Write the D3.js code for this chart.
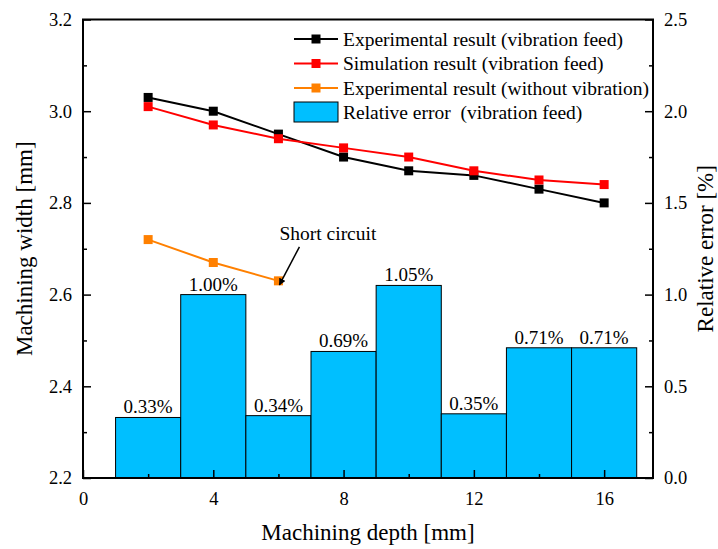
<!DOCTYPE html>
<html>
<head>
<meta charset="utf-8">
<script src="https://cdn.jsdelivr.net/npm/d3@7"></script>
<style>
  body { margin: 0; background: #fff; }
  text { font-family: "Liberation Serif", "Times New Roman", serif; fill: #000; }
</style>
</head>
<body>
<script>
// data
var depth = [2, 4, 6, 8, 10, 12, 14, 16];
var expVib = [3.03, 3.00, 2.95, 2.90, 2.87, 2.86, 2.83, 2.80];
var simVib = [3.01, 2.97, 2.94, 2.92, 2.90, 2.87, 2.85, 2.84];
var depthNoVib = [2, 4, 6];
var expNoVib = [2.72, 2.67, 2.63];
var relErr = [0.33, 1.00, 0.34, 0.69, 1.05, 0.35, 0.71, 0.71];
var errLabels = ["0.33%", "1.00%", "0.34%", "0.69%", "1.05%", "0.35%", "0.71%", "0.71%"];
var xTicks = [0, 4, 8, 12, 16];
var yLeftTicks = [2.2, 2.4, 2.6, 2.8, 3.0, 3.2];
var yRightTicks = [0, 0.5, 1.0, 1.5, 2.0, 2.5];
var legendNames = ["Experimental result (vibration feed)", "Simulation result (vibration feed)",
                   "Experimental result (without vibration)", "Relative error  (vibration feed)"];

var W = 718, H = 549;
var pL = 83, pR = 653, pT = 19.5, pB = 478;

var svg = d3.select("body").append("svg")
    .attr("width", W)
    .attr("height", H);

var x = d3.scaleLinear().domain([0, 17.5]).range([pL, pR]);
var yL = d3.scaleLinear().domain([2.2, 3.2]).range([pB, pT]);
var yR = d3.scaleLinear().domain([0, 2.5]).range([pB, pT]);

var barColor = "#00BFFF";
var orange = "#FF8000";

// bars (relative error)
svg.selectAll("rect.bar").data(relErr).enter().append("rect")
    .attr("class", "bar")
    .attr("x", function (d, i) { return x(depth[i] - 1); })
    .attr("width", function (d, i) { return x(depth[i] + 1) - x(depth[i] - 1); })
    .attr("y", function (d) { return yR(d); })
    .attr("height", function (d) { return pB - yR(d); })
    .style("fill", barColor)
    .style("stroke", "#000")
    .style("stroke-width", 1);

svg.selectAll("text.barlab").data(relErr).enter().append("text")
    .attr("class", "barlab")
    .attr("x", function (d, i) { return x(depth[i]); })
    .attr("y", function (d) { return yR(d) - 4; })
    .attr("text-anchor", "middle")
    .style("font-size", "19px")
    .text(function (d, i) { return errLabels[i]; });

// lines
function drawSeries(xs, ys, color) {
    var pts = xs.map(function (v, i) { return [x(v), yL(ys[i])]; });
    svg.append("path")
        .attr("d", d3.line()(pts))
        .style("fill", "none")
        .style("stroke", color)
        .style("stroke-width", 2);
    svg.selectAll(null).data(pts).enter().append("rect")
        .attr("x", function (d) { return d[0] - 4.5; })
        .attr("y", function (d) { return d[1] - 4.5; })
        .attr("width", 9)
        .attr("height", 9)
        .style("fill", color);
}
drawSeries(depth, expVib, "#000");
drawSeries(depth, simVib, "#FF0000");
drawSeries(depthNoVib, expNoVib, orange);

// short circuit annotation
var px = x(depthNoVib[2]), py = yL(expNoVib[2]);
svg.append("defs").append("marker")
    .attr("id", "arr")
    .attr("viewBox", "0 0 10 10")
    .attr("refX", 9).attr("refY", 5)
    .attr("markerWidth", 7).attr("markerHeight", 7)
    .attr("markerUnits", "userSpaceOnUse")
    .attr("orient", "auto")
    .append("path").attr("d", "M0,0L10,5L0,10z").style("fill", "#000");
svg.append("line")
    .attr("x1", px + 21).attr("y1", py - 34)
    .attr("x2", px + 1).attr("y2", py + 4)
    .style("stroke", "#000").style("stroke-width", 1.5)
    .attr("marker-end", "url(#arr)");
svg.append("text")
    .attr("x", px + 1).attr("y", py - 41)
    .style("font-size", "19.5px")
    .text("Short circuit");

// axes (ticks point inward)
svg.append("g").attr("transform", "translate(0," + pB + ")")
    .call(d3.axisBottom(x).tickValues(xTicks).tickSizeInner(-8).tickSizeOuter(0).tickPadding(14).tickFormat(d3.format("d")));
svg.append("g").attr("transform", "translate(0," + pB + ")")
    .call(d3.axisBottom(x).tickValues([2, 6, 10, 14]).tickSizeInner(-4).tickSizeOuter(0).tickFormat(""));

svg.append("g").attr("transform", "translate(" + pL + ",0)")
    .call(d3.axisLeft(yL).tickValues(yLeftTicks).tickSizeInner(-8).tickSizeOuter(0).tickPadding(11).tickFormat(d3.format(".1f")));
svg.append("g").attr("transform", "translate(" + pL + ",0)")
    .call(d3.axisLeft(yL).tickValues([2.3, 2.5, 2.7, 2.9, 3.1]).tickSizeInner(-4).tickSizeOuter(0).tickFormat(""));

svg.append("g").attr("transform", "translate(" + pR + ",0)")
    .call(d3.axisRight(yR).tickValues(yRightTicks).tickSizeInner(-8).tickSizeOuter(0).tickPadding(11).tickFormat(d3.format(".1f")));
svg.append("g").attr("transform", "translate(" + pR + ",0)")
    .call(d3.axisRight(yR).tickValues([0.25, 0.75, 1.25, 1.75, 2.25]).tickSizeInner(-4).tickSizeOuter(0).tickFormat(""));

svg.selectAll(".tick text")
    .style("font-family", "'Liberation Serif', serif")
    .style("font-size", "18.5px")
    .style("fill", "#000");
svg.selectAll(".tick line").style("stroke", "#000").style("stroke-width", 1.5);
svg.selectAll(".domain").remove();

// frame
svg.append("rect")
    .attr("x", pL).attr("y", pT)
    .attr("width", pR - pL).attr("height", pB - pT)
    .style("fill", "none").style("stroke", "#000").style("stroke-width", 2);

// axis titles
svg.append("text")
    .attr("x", (pL + pR) / 2).attr("y", 540)
    .attr("text-anchor", "middle")
    .style("font-size", "23px")
    .text("Machining depth [mm]");
svg.append("text")
    .attr("transform", "translate(32," + (pT + pB) / 2 + ") rotate(-90)")
    .attr("text-anchor", "middle")
    .style("font-size", "23px")
    .text("Machining width [mm]");
svg.append("text")
    .attr("transform", "translate(713," + (pT + pB) / 2 + ") rotate(-90)")
    .attr("text-anchor", "middle")
    .style("font-size", "23px")
    .text("Relative error [%]");

// legend
var legY = [39, 63.5, 88, 112];
var legColors = ["#000", "#FF0000", orange];
var leg = svg.append("g");
legColors.forEach(function (c, i) {
    leg.append("line")
        .attr("x1", 294).attr("x2", 338)
        .attr("y1", legY[i]).attr("y2", legY[i])
        .style("stroke", c).style("stroke-width", 2);
    leg.append("rect")
        .attr("x", 316 - 4.5).attr("y", legY[i] - 4.5)
        .attr("width", 9).attr("height", 9)
        .style("fill", c);
});
leg.append("rect")
    .attr("x", 294).attr("y", legY[3] - 10)
    .attr("width", 44).attr("height", 20)
    .style("fill", barColor).style("stroke", "#000").style("stroke-width", 1);
leg.selectAll("text").data(legendNames).enter().append("text")
    .attr("x", 343)
    .attr("y", function (d, i) { return legY[i]; })
    .attr("dy", "0.35em")
    .style("font-size", "19.5px")
    .style("white-space", "pre")
    .attr("xml:space", "preserve")
    .text(function (d) { return d; });
</script>
</body>
</html>
